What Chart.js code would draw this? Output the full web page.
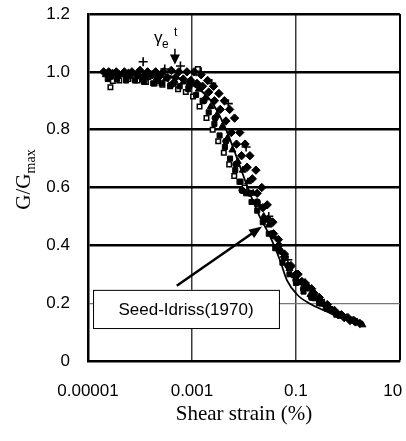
<!DOCTYPE html>
<html lang="en">
<head>
    <meta charset="UTF-8">
    <title>G/Gmax vs shear strain</title>
    <script src="https://cdn.jsdelivr.net/npm/chart.js@4"></script>
    <style>
        body { margin: 0; background: #fff; }
        .wrap { width: 406px; height: 441px; position: relative; }
    </style>
</head>
<body>
    <div class="wrap">
        <canvas id="modulusChart"></canvas>
    </div>

    <script>
        // axis ticks
        const xTicks = [1e-5, 1e-3, 1e-1, 10];
        const xTickLabels = ['0.00001', '0.001', '0.1', '10'];
        const yTicks = [0, 0.2, 0.4, 0.6, 0.8, 1.0, 1.2];
        const yTickLabels = ['0', '0.2', '0.4', '0.6', '0.8', '1.0', '1.2'];

        // test series
        const diamondX = [2.5e-5, 3.5e-5, 5e-5, 7e-5, 1e-4, 1.4e-4, 2e-4, 2.8e-4, 4e-4, 5.6e-4, 8e-4, 1.1e-3, 1.5e-3, 2e-3, 2.6e-3, 3.3e-3, 4.2e-3, 5.3e-3, 6.6e-3, 8.3e-3, 0.0105, 0.013, 0.017, 0.022, 0.028, 0.036, 0.046, 0.06, 0.08, 0.11, 0.15, 0.2, 0.28, 0.4, 0.55, 0.75, 1.0, 1.3, 1.7];
        const diamondY = [1.0, 1.0, 1.0, 1.0, 1.005, 1.0, 1.0, 1.0, 1.005, 1.0, 1.0, 1.0, 0.99, 0.97, 0.95, 0.925, 0.9, 0.87, 0.84, 0.79, 0.75, 0.71, 0.66, 0.6, 0.54, 0.48, 0.42, 0.37, 0.33, 0.3, 0.27, 0.25, 0.22, 0.195, 0.175, 0.16, 0.15, 0.14, 0.13];

        const diamond2X = [2e-5, 2.7e-5, 4e-5, 6e-5, 8.5e-5, 1.2e-4, 1.7e-4, 2.4e-4, 3.4e-4, 4.8e-4, 6.8e-4, 9.5e-4, 1.25e-3, 1.6e-3, 2.1e-3, 2.7e-3, 3.5e-3, 4.5e-3, 5.7e-3, 7.2e-3, 9e-3, 0.0115, 0.0145, 0.018, 0.023, 0.029, 0.037, 0.047, 0.06, 0.078, 0.1, 0.13, 0.17, 0.22, 0.29, 0.38, 0.5, 0.65, 0.85, 1.1, 1.4];
        const diamond2Y = [1.0, 0.995, 0.99, 0.995, 0.99, 0.985, 0.99, 0.985, 0.98, 0.98, 0.975, 0.97, 0.96, 0.95, 0.93, 0.9, 0.87, 0.83, 0.79, 0.75, 0.71, 0.67, 0.63, 0.58, 0.53, 0.49, 0.44, 0.4, 0.36, 0.325, 0.3, 0.275, 0.255, 0.235, 0.21, 0.19, 0.175, 0.16, 0.15, 0.14, 0.135];

        const squareX = [2.7e-5, 3e-5, 4e-5, 6e-5, 9e-5, 1.3e-4, 1.9e-4, 2.7e-4, 3.8e-4, 5.4e-4, 7.6e-4, 1.05e-3, 1.3e-3, 1.4e-3, 1.9e-3, 2.5e-3, 3.2e-3, 4.1e-3, 5.2e-3, 6.5e-3, 8.2e-3, 0.0103];
        const squareY = [0.947, 0.968, 0.97, 0.975, 0.97, 0.965, 0.96, 0.955, 0.95, 0.94, 0.93, 0.915, 1.01, 0.88, 0.84, 0.8, 0.76, 0.72, 0.68, 0.64, 0.62, 0.6];

        const filledSquareX = [2.4e-5, 3.6e-5, 5.4e-5, 8e-5, 1.2e-4, 1.8e-4, 2.6e-4, 3.9e-4, 5.8e-4, 8.5e-4, 1.2e-3, 1.6e-3, 2.1e-3, 2.7e-3, 3.4e-3, 4.3e-3, 5.4e-3, 6.8e-3, 8.6e-3, 0.011, 0.014, 0.018, 0.023, 0.03, 0.04, 0.055, 0.075, 0.1, 0.14, 0.2, 0.28, 0.4, 0.6, 0.9];
        const filledSquareY = [0.975, 0.975, 0.97, 0.97, 0.965, 0.96, 0.96, 0.955, 0.95, 0.94, 0.92, 0.9, 0.86, 0.82, 0.78, 0.74, 0.7, 0.66, 0.62, 0.58, 0.55, 0.52, 0.48, 0.44, 0.39, 0.34, 0.3, 0.27, 0.24, 0.22, 0.2, 0.18, 0.16, 0.15];

        const triangleX = [2.2e-5, 3e-5, 4.5e-5, 6.5e-5, 9.5e-5, 1.4e-4, 2.1e-4, 3.1e-4, 4.6e-4, 6.8e-4, 1e-3, 1.35e-3, 1.8e-3, 2.3e-3, 3e-3, 3.8e-3, 4.8e-3, 6e-3, 7.6e-3, 9.5e-3, 0.012, 0.015, 0.019, 0.024, 0.03, 0.038, 0.048, 0.06, 0.075, 0.095, 0.12, 0.15, 0.19, 0.24, 0.3, 0.38, 0.48, 0.6, 0.75, 0.95, 1.2, 1.5, 1.9];
        const triangleY = [0.99, 0.995, 0.99, 0.985, 0.985, 0.98, 0.98, 0.975, 0.97, 0.965, 0.96, 0.94, 0.91, 0.88, 0.85, 0.81, 0.77, 0.73, 0.69, 0.66, 0.62, 0.58, 0.54, 0.5, 0.47, 0.43, 0.39, 0.355, 0.32, 0.295, 0.27, 0.25, 0.23, 0.215, 0.2, 0.185, 0.175, 0.165, 0.155, 0.15, 0.14, 0.135, 0.125];

        const circleX = [2.8e-5, 5.5e-5, 1.1e-4, 2.2e-4, 4.4e-4, 8.8e-4, 1.7e-3, 2.8e-3, 4.5e-3, 7e-3, 0.0092, 0.013, 0.018, 0.025, 0.035, 0.05, 0.07, 0.1, 0.14, 0.2, 0.3, 0.45, 0.7];
        const circleY = [0.985, 0.98, 0.975, 0.97, 0.96, 0.95, 0.9, 0.84, 0.76, 0.68, 0.59, 0.58, 0.55, 0.49, 0.44, 0.38, 0.33, 0.28, 0.25, 0.22, 0.2, 0.18, 0.16];

        const crossX = [1.15e-4, 3e-4, 6e-4, 1.2e-3, 1.5e-3, 2.4e-3, 5e-3, 0.011, 0.03, 0.07, 0.15, 0.35];
        const crossY = [1.035, 1.01, 1.02, 1.0, 1.0, 0.96, 0.89, 0.74, 0.5, 0.35, 0.27, 0.2];

        // Seed-Idriss (1970) curve
        const seedX = [1e-4, 3e-4, 9e-4, 2.2e-3, 4.3e-3, 7.4e-3, 0.013, 0.02, 0.032, 0.049, 0.067, 0.105, 0.186, 0.33, 0.61, 1.1, 1.86];
        const seedY = [1.0, 0.99, 0.96, 0.905, 0.81, 0.70, 0.58, 0.50, 0.43, 0.35, 0.28, 0.23, 0.198, 0.177, 0.156, 0.139, 0.125];

        // annotation anchors (data units)
        const thresholdStrain = 4.7e-4;
        const thresholdTipY = 1.025;
        const thresholdTopY = 1.08;
        const seedArrowFrom = { x: 5.1e-4, y: 0.26 };
        const seedArrowTo = { x: 0.0222, y: 0.465 };
        const seedBox = { x0: 1.25e-5, x1: 0.0471, y0: 0.246, y1: 0.114 };
        const seedLabel = 'Seed-Idriss(1970)';

        const toPts = (xs, ys) => xs.map((x, i) => ({ x: x, y: ys[i] }));

        const sansFont = '"Liberation Sans", Arial, sans-serif';
        const serifFont = '"Liberation Serif", "Times New Roman", serif';

        // draws y title with subscript, threshold arrow and the Seed-Idriss label
        const annotations = {
            id: 'annotations',
            afterDraw(chart) {
                const ctx = chart.ctx;
                const xs = chart.scales.x;
                const ys = chart.scales.y;
                const area = chart.chartArea;
                ctx.save();
                ctx.fillStyle = '#000';
                ctx.strokeStyle = '#000';

                // y axis title: G/Gmax
                ctx.save();
                ctx.translate(30, (area.top + area.bottom) / 2 - 8);
                ctx.rotate(-Math.PI / 2);
                ctx.font = '21px ' + serifFont;
                const w1 = ctx.measureText('G/G').width;
                ctx.font = '14px ' + serifFont;
                const w2 = ctx.measureText('max').width;
                ctx.textBaseline = 'alphabetic';
                ctx.font = '21px ' + serifFont;
                ctx.fillText('G/G', -(w1 + w2) / 2, 0);
                ctx.font = '14px ' + serifFont;
                ctx.fillText('max', -(w1 + w2) / 2 + w1, 5);
                ctx.restore();

                // threshold strain arrow
                const ax = xs.getPixelForValue(thresholdStrain);
                const tipY = ys.getPixelForValue(thresholdTipY);
                const topY = ys.getPixelForValue(thresholdTopY);
                ctx.lineWidth = 1.5;
                ctx.beginPath();
                ctx.moveTo(ax, topY);
                ctx.lineTo(ax, tipY - 8);
                ctx.stroke();
                ctx.beginPath();
                ctx.moveTo(ax - 5, tipY - 10);
                ctx.lineTo(ax + 5, tipY - 10);
                ctx.lineTo(ax, tipY);
                ctx.closePath();
                ctx.fill();

                ctx.textBaseline = 'alphabetic';
                ctx.textAlign = 'left';
                ctx.font = '17px ' + sansFont;
                ctx.fillText('\u03b3', ax - 21, topY - 6);
                ctx.font = '12px ' + sansFont;
                ctx.fillText('e', ax - 13, topY - 1);
                ctx.fillText('t', ax - 1, topY - 13);

                // arrow to the Seed-Idriss curve
                const fx = xs.getPixelForValue(seedArrowFrom.x);
                const fy = ys.getPixelForValue(seedArrowFrom.y);
                const tx = xs.getPixelForValue(seedArrowTo.x);
                const ty = ys.getPixelForValue(seedArrowTo.y);
                const ang = Math.atan2(ty - fy, tx - fx);
                ctx.lineWidth = 2.5;
                ctx.beginPath();
                ctx.moveTo(fx, fy);
                ctx.lineTo(tx - 10 * Math.cos(ang), ty - 10 * Math.sin(ang));
                ctx.stroke();
                ctx.beginPath();
                ctx.moveTo(tx, ty);
                ctx.lineTo(tx - 13 * Math.cos(ang) + 5 * Math.sin(ang), ty - 13 * Math.sin(ang) - 5 * Math.cos(ang));
                ctx.lineTo(tx - 13 * Math.cos(ang) - 5 * Math.sin(ang), ty - 13 * Math.sin(ang) + 5 * Math.cos(ang));
                ctx.closePath();
                ctx.fill();

                // label box
                const bx0 = xs.getPixelForValue(seedBox.x0);
                const bx1 = xs.getPixelForValue(seedBox.x1);
                const by0 = ys.getPixelForValue(seedBox.y0);
                const by1 = ys.getPixelForValue(seedBox.y1);
                ctx.fillStyle = '#fff';
                ctx.fillRect(bx0, by0, bx1 - bx0, by1 - by0);
                ctx.lineWidth = 1;
                ctx.strokeRect(bx0 + 0.5, by0 + 0.5, bx1 - bx0, by1 - by0);
                ctx.fillStyle = '#000';
                ctx.font = '17px ' + sansFont;
                ctx.textAlign = 'center';
                ctx.textBaseline = 'middle';
                ctx.fillText(seedLabel, (bx0 + bx1) / 2, (by0 + by1) / 2 + 1);

                ctx.restore();
            }
        };

        const markerBase = { showLine: false, borderColor: '#000', borderWidth: 1, pointHoverRadius: 3 };

        new Chart(document.getElementById('modulusChart'), {
            type: 'scatter',
            data: {
                datasets: [
                    {
                        label: 'Seed-Idriss(1970)',
                        type: 'line',
                        data: toPts(seedX, seedY),
                        showLine: true,
                        borderColor: '#000',
                        borderWidth: 1.8,
                        pointRadius: 0,
                        tension: 0.4,
                        cubicInterpolationMode: 'monotone',
                        fill: false
                    },
                    { ...markerBase, data: toPts(filledSquareX, filledSquareY), pointStyle: 'rect', pointRadius: 3.6, backgroundColor: '#000' },
                    { ...markerBase, data: toPts(circleX, circleY), pointStyle: 'circle', pointRadius: 3.2, backgroundColor: '#000' },
                    { ...markerBase, data: toPts(triangleX, triangleY), pointStyle: 'triangle', pointRadius: 4, backgroundColor: '#000' },
                    { ...markerBase, data: toPts(diamondX, diamondY), pointStyle: 'rectRot', pointRadius: 4.2, backgroundColor: '#000' },
                    { ...markerBase, data: toPts(diamond2X, diamond2Y), pointStyle: 'rectRot', pointRadius: 4.2, backgroundColor: '#000' },
                    { ...markerBase, data: toPts(squareX, squareY), pointStyle: 'rect', pointRadius: 3.2, backgroundColor: '#fff', borderWidth: 1.5 },
                    { ...markerBase, data: toPts(crossX, crossY), pointStyle: 'cross', pointRadius: 4.5, borderWidth: 1.6, backgroundColor: '#000' }
                ]
            },
            options: {
                responsive: true,
                maintainAspectRatio: false,
                animation: false,
                layout: { padding: { top: 14, right: 6, left: 0, bottom: 0 } },
                plugins: {
                    legend: { display: false },
                    tooltip: { enabled: false }
                },
                scales: {
                    x: {
                        type: 'logarithmic',
                        min: 1e-5,
                        max: 10,
                        afterBuildTicks: (scale) => {
                            scale.ticks = xTicks.map(v => ({ value: v }));
                        },
                        afterFit: (scale) => {
                            scale.height = 80;
                            scale.paddingLeft = 0;
                            scale.paddingRight = 0;
                        },
                        ticks: {
                            autoSkip: false,
                            maxRotation: 0,
                            padding: 20,
                            color: '#000',
                            font: { family: sansFont, size: 17 },
                            // trailing spaces nudge the last label left like the original
                            callback: (v, i) => i === xTickLabels.length - 1 ? xTickLabels[i] + '   ' : xTickLabels[i]
                        },
                        grid: {
                            drawTicks: false,
                            color: (c) => c.index === xTicks.length - 1 ? '#000' : '#3a3a3a',
                            lineWidth: (c) => c.index === xTicks.length - 1 ? 2 : 1.5
                        },
                        border: { color: '#000', width: 2 },
                        title: {
                            display: true,
                            text: 'Shear strain (%)',
                            color: '#000',
                            font: { family: serifFont, size: 21 },
                            padding: { top: 0, bottom: 14 }
                        }
                    },
                    y: {
                        min: 0,
                        max: 1.2,
                        afterBuildTicks: (scale) => {
                            scale.ticks = yTicks.map(v => ({ value: v }));
                        },
                        afterFit: (scale) => {
                            scale.width = 88;
                            scale.paddingTop = 0;
                            scale.paddingBottom = 0;
                        },
                        ticks: {
                            padding: 18,
                            color: '#000',
                            font: { family: sansFont, size: 17 },
                            callback: (v, i) => yTickLabels[i]
                        },
                        grid: {
                            drawTicks: false,
                            color: (c) => c.index === 1 ? '#777' : '#000',
                            lineWidth: (c) => c.index === 1 ? 1.2 : 2.5
                        },
                        border: { color: '#000', width: 2.5 }
                    }
                }
            },
            plugins: [annotations]
        });
    </script>
</body>
</html>
